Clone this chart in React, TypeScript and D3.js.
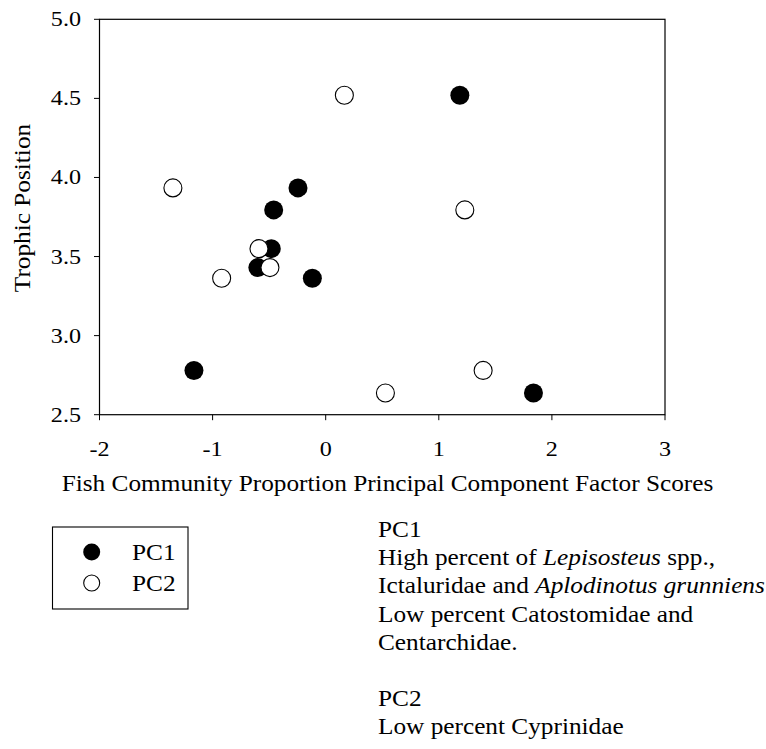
import React from "react";
import * as d3 from "d3";

const trophic = [4.52, 3.934, 3.795, 3.55, 3.43, 3.363, 2.78, 2.637];
const pc1Scores = [1.186, -0.245, -0.46, -0.481, -0.6, -0.118, -1.165, 1.837];
const pc2Scores = [0.165, -1.351, 1.23, -0.59, -0.493, -0.92, 1.392, 0.528];
const xTicks = [-2, -1, 0, 1, 2, 3];
const yTicks = [2.5, 3.0, 3.5, 4.0, 4.5, 5.0];
const seriesNames = ["PC1", "PC2"];
const noteLines = [
  [{ t: "PC1", i: false }],
  [{ t: "High percent of ", i: false }, { t: "Lepisosteus", i: true }, { t: " spp.,", i: false }],
  [{ t: "Ictaluridae and ", i: false }, { t: "Aplodinotus grunniens", i: true }],
  [{ t: "Low percent Catostomidae and", i: false }],
  [{ t: "Centarchidae.", i: false }],
  [],
  [{ t: "PC2", i: false }],
  [{ t: "Low percent Cyprinidae", i: false }],
];

const FONT = "'Liberation Serif', 'Times New Roman', serif";
const SX = 1.1;

export default function App() {
  const W = 766, H = 749;
  const left = 99.5, right = 665, top = 19.3, bottom = 414.7;
  const x = d3.scaleLinear().domain([-2, 3]).range([left, right]);
  const y = d3.scaleLinear().domain([2.5, 5]).range([bottom, top]);
  const r = 9.5;
  const pts1 = trophic.map((t, k) => ({ x: pc1Scores[k], y: t }));
  const pts2 = trophic.map((t, k) => ({ x: pc2Scores[k], y: t }));

  return (
    <svg width={W} height={H} style={{ position: "absolute", left: 0, top: 0, background: "#fff" }} fontFamily={FONT}>
      <rect x={0} y={0} width={W} height={H} fill="#fff" />
      <rect x={left} y={top} width={right - left} height={bottom - top} fill="none" stroke="#000" strokeWidth={1.2} />
      {xTicks.map((v) => (
        <g key={"x" + v}>
          <line x1={x(v)} x2={x(v)} y1={bottom} y2={bottom + 5.5} stroke="#000" strokeWidth={1} />
          <text transform={`translate(${x(v)},456) scale(1.15,1)`} textAnchor="middle" fontSize={21}>{String(v)}</text>
        </g>
      ))}
      {yTicks.map((v) => (
        <g key={"y" + v}>
          <line x1={left - 5.5} x2={left} y1={y(v)} y2={y(v)} stroke="#000" strokeWidth={1} />
          <text transform={`translate(81,${y(v) + 7}) scale(1.15,1)`} textAnchor="end" fontSize={21}>{d3.format(".1f")(v)}</text>
        </g>
      ))}
      <text transform={`translate(387.5,491) scale(${SX},1)`} textAnchor="middle" fontSize={23}>
        Fish Community Proportion Principal Component Factor Scores
      </text>
      <text transform={`translate(30, 208) rotate(-90) scale(${SX},1)`} textAnchor="middle" fontSize={23}>
        Trophic Position
      </text>
      {pts1.map((p, k) => (
        <circle key={"a" + k} cx={x(p.x)} cy={y(p.y)} r={r} fill="#000" />
      ))}
      {pts2.map((p, k) => (
        <circle key={"b" + k} cx={x(p.x)} cy={y(p.y)} r={r - 0.5} fill="#fff" stroke="#000" strokeWidth={1.1} />
      ))}
      <rect x={52.5} y={527} width={135.5} height={82} fill="#fff" stroke="#000" strokeWidth={1.1} />
      {seriesNames.map((s, k) => (
        <g key={s}>
          <circle cx={91.7} cy={552 + k * 31} r={k === 0 ? 8.5 : 8} fill={k === 0 ? "#000" : "#fff"} stroke="#000" strokeWidth={k === 0 ? 0 : 1.1} />
          <text transform={`translate(132,${560 + k * 30.5}) scale(${SX},1)`} fontSize={23}>{s}</text>
        </g>
      ))}
      {noteLines.map((line, k) => (
        <text key={"n" + k} transform={`translate(378,${537 + k * 28.2}) scale(${SX},1)`} fontSize={23}>
          {line.map((seg, j) => (
            <tspan key={j} fontStyle={seg.i ? "italic" : "normal"}>{seg.t}</tspan>
          ))}
        </text>
      ))}
    </svg>
  );
}
